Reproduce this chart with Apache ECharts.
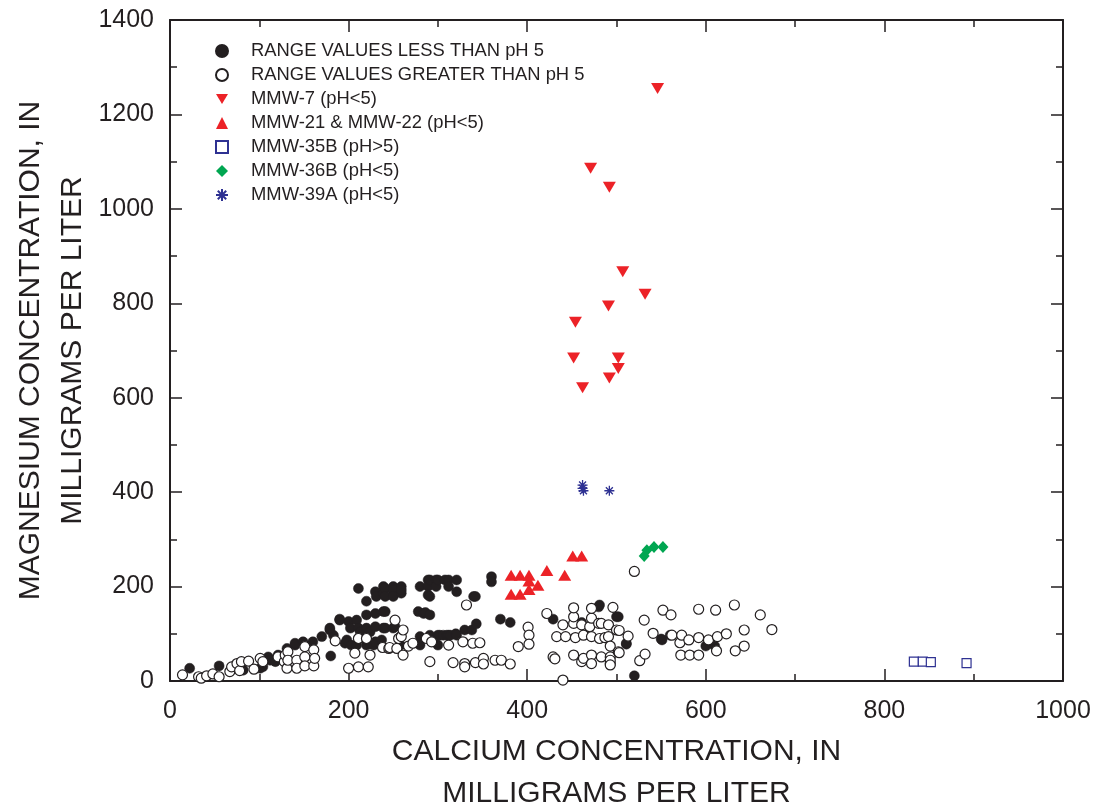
<!DOCTYPE html>
<html>
<head>
<meta charset="utf-8">
<title>Calcium vs magnesium concentration</title>
<script src="https://cdn.jsdelivr.net/npm/echarts@6/dist/echarts.min.js"></script>
<style>
  html, body { margin: 0; padding: 0; background: #ffffff; }
  #chart { width: 1096px; height: 808px; }
</style>
</head>
<body>
<div id="chart"></div>
<script>
// Calcium (x) and magnesium (y) concentrations, milligrams per liter.
const seriesNames = [
  'RANGE VALUES LESS THAN pH 5',
  'RANGE VALUES GREATER THAN pH 5',
  'MMW-7 (pH<5)',
  'MMW-21 & MMW-22 (pH<5)',
  'MMW-35B (pH>5)',
  'MMW-36B (pH<5)',
  'MMW-39A (pH<5)'
];

const rangeLowPh = [
  [22,27],[55,32],[82,23],[101,27],[104,30],[110,51],[112,44],[118,41],[121,55],[131,69],
  [140,76],[140,80],[149,83],[160,83],[170,94],[179,108],[180,53],[183,97],[190,131],[190,129],
  [196,80],[198,87],[200,126],[203,76],[202,112],[209,129],[209,76],[211,196],[211,112],[213,104],
  [220,169],[220,140],[220,112],[220,76],[220,87],[224,104],[228,76],[230,115],[230,143],[230,189],
  [230,83],[231,179],[237,87],[239,200],[239,186],[239,147],[239,112],[241,196],[241,179],[241,147],
  [241,112],[250,200],[250,186],[250,193],[250,179],[250,112],[252,115],[258,94],[258,76],[259,200],
  [259,186],[259,193],[179,112],[280,200],[289,214],[289,200],[289,182],[291,214],[298,214],[298,200],
  [300,214],[308,214],[312,214],[312,200],[321,214],[321,189],[291,179],[278,147],[284,143],[286,145],
  [291,140],[280,94],[280,76],[291,97],[300,97],[300,76],[302,97],[306,97],[310,97],[312,97],
  [314,97],[320,100],[321,97],[330,108],[338,108],[343,121],[340,179],[342,179],[360,221],[360,210],
  [370,131],[381,124],[429,131],[461,124],[480,157],[481,161],[500,136],[502,136],[511,78],[511,80],
  [520,11],[550,89],[551,87],[560,97],[600,74],[610,74]
];

const rangeHighPh = [
  [14,13],[32,9],[35,6],[41,11],[48,15],[55,9],[67,20],[69,30],[75,37],[78,22],
  [80,41],[88,42],[94,25],[101,48],[104,41],[121,51],[128,41],[129,55],[131,27],[132,62],
  [132,44],[142,44],[142,27],[151,73],[151,51],[151,32],[161,66],[161,32],[162,48],[185,85],
  [200,27],[207,59],[211,90],[211,30],[220,90],[222,30],[224,55],[238,71],[245,69],[246,71],
  [252,129],[254,69],[256,90],[259,94],[261,108],[261,55],[267,74],[272,80],[287,90],[291,41],
  [293,83],[312,76],[317,39],[328,83],[330,37],[330,30],[332,161],[339,80],[342,39],[347,81],
  [351,48],[351,36],[364,44],[371,44],[381,36],[390,73],[401,114],[402,97],[402,78],[422,143],
  [429,51],[431,47],[433,94],[440,119],[440,2],[443,94],[452,55],[452,122],[452,136],[452,155],
  [454,92],[461,41],[461,119],[463,48],[463,97],[470,115],[472,55],[472,37],[472,94],[472,133],
  [472,154],[480,122],[481,90],[483,122],[483,51],[487,92],[491,94],[491,119],[493,51],[493,37],
  [493,74],[493,44],[493,34],[496,156],[500,108],[502,62],[503,107],[503,60],[513,95],[520,232],
  [526,43],[531,129],[532,57],[541,101],[552,150],[561,140],[562,97],[571,81],[572,55],[573,97],
  [581,87],[582,55],[592,92],[592,55],[592,152],[603,87],[611,150],[612,64],[613,94],[623,100],
  [632,161],[633,64],[643,108],[643,74],[661,140],[674,109]
];

const mmw7 = [
  [546,1255],[471,1086],[492,1046],[507,867],[532,819],[491,794],[454,760],[452,684],[502,684],
  [502,662],[492,642],[462,621]
];

const mmw21and22 = [
  [382,224],[392,224],[402,224],[402,212],[412,203],[422,234],[442,224],[451,265],[461,265],
  [382,184],[392,184],[402,194]
];

const mmw35b = [[833,41],[843,41],[852,40],[892,38]];

const mmw36b = [[531,265],[534,277],[542,284],[552,284]];

const mmw39a = [[462,415],[462,408],[463,403],[492,403]];

const xRange = { min: 0, max: 1000, interval: 200 };
const yRange = { min: 0, max: 1400, interval: 200 };

const ink = '#231f20';
const red = '#ec2227';
const navy = '#2e3192';
const green = '#00a651';
const font = '"Liberation Sans", Arial, Helvetica, sans-serif';

const downTriangle = 'path://M0,0L12,0L6,10Z';
const asterisk = 'path://M5,0L5,10M0,5L10,5M1.5,1.5L8.5,8.5M1.5,8.5L8.5,1.5';

function frameAxis(pos, range, showLabels, name) {
  return {
    type: 'value',
    position: pos,
    min: range.min,
    max: range.max,
    interval: range.interval,
    name: name || '',
    nameLocation: 'middle',
    nameGap: (pos === 'bottom') ? 50 : 76,
    nameMoveOverlap: false,
    nameTextStyle: { fontFamily: font, fontSize: 30, color: ink, lineHeight: 42 },
    axisLine: { show: true, onZero: false, lineStyle: { color: ink, width: 2 } },
    axisTick: { show: true, inside: true, length: 12, lineStyle: { color: ink, width: 1.5 } },
    minorTick: { show: true, splitNumber: 2, length: 7, lineStyle: { color: ink, width: 1.5 } },
    splitLine: { show: false },
    axisLabel: {
      show: showLabels,
      fontFamily: font,
      fontSize: 25,
      color: ink,
      margin: (pos === 'bottom') ? 18 : 16,
      formatter: (v) => String(v)
    }
  };
}

const chart = echarts.init(document.getElementById('chart'), null, { renderer: 'canvas' });

chart.setOption({
  animation: false,
  backgroundColor: '#ffffff',
  grid: { left: 170, right: 33, top: 20, bottom: 127, containLabel: false, outerBoundsMode: 'none' },
  xAxis: [
    frameAxis('bottom', xRange, true, 'CALCIUM CONCENTRATION, IN\nMILLIGRAMS PER LITER'),
    frameAxis('top', xRange, false)
  ],
  yAxis: [
    frameAxis('left', yRange, true, 'MAGNESIUM CONCENTRATION, IN\nMILLIGRAMS PER LITER'),
    frameAxis('right', yRange, false)
  ],
  legend: {
    orient: 'vertical',
    left: 210,
    top: 37,
    itemWidth: 12,
    itemHeight: 12,
    itemGap: 6,
    data: seriesNames,
    selectedMode: false,
    textStyle: { fontFamily: font, fontSize: 18.4, color: ink, padding: [0, 0, 0, 18] }
  },
  series: [
    {
      name: seriesNames[0], type: 'scatter', data: rangeLowPh,
      symbol: 'circle', symbolSize: 10,
      itemStyle: { color: ink, borderColor: ink, borderWidth: 0.5, opacity: 1 }
    },
    {
      name: seriesNames[1], type: 'scatter', data: rangeHighPh,
      symbol: 'circle', symbolSize: 10,
      itemStyle: { color: '#ffffff', borderColor: ink, borderWidth: 1.2, opacity: 1 }
    },
    {
      name: seriesNames[2], type: 'scatter', data: mmw7,
      symbol: downTriangle, symbolSize: [13, 11],
      itemStyle: { color: red, opacity: 1 }
    },
    {
      name: seriesNames[3], type: 'scatter', data: mmw21and22,
      symbol: 'triangle', symbolSize: [13, 11],
      itemStyle: { color: red, opacity: 1 }
    },
    {
      name: seriesNames[4], type: 'scatter', data: mmw35b,
      symbol: 'rect', symbolSize: 9,
      itemStyle: { color: '#ffffff', borderColor: navy, borderWidth: 1.2, opacity: 1 }
    },
    {
      name: seriesNames[5], type: 'scatter', data: mmw36b,
      symbol: 'diamond', symbolSize: [11, 12],
      itemStyle: { color: green, opacity: 1 }
    },
    {
      name: seriesNames[6], type: 'scatter', data: mmw39a,
      symbol: asterisk, symbolSize: 10,
      itemStyle: { color: navy, borderColor: navy, borderWidth: 1.3, opacity: 1 }
    }
  ]
});
</script>
</body>
</html>
